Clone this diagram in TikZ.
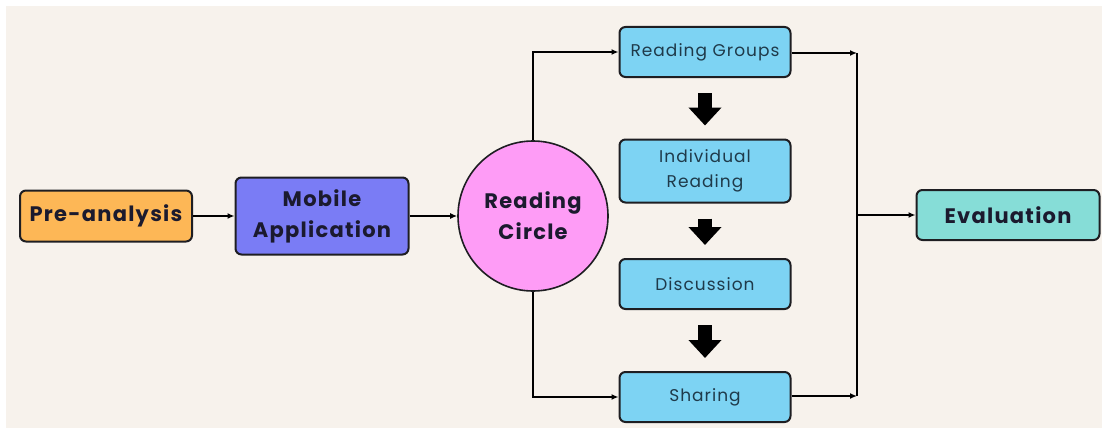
\documentclass[tikz,border=0pt]{standalone}
\usepackage{fontspec}
\setmainfont{Poppins}
\newfontfamily\thinfont{Poppins}[LetterSpace=6]
\newfontfamily\widefont{Poppins}[LetterSpace=6]
\usepackage{tikz}
\usetikzlibrary{arrows.meta}
\definecolor{bgcream}{HTML}{F7F2EC}
\definecolor{orfill}{HTML}{FDB756}
\definecolor{pufill}{HTML}{7A7CF5}
\definecolor{pkfill}{HTML}{FE9CF6}
\definecolor{blfill}{HTML}{7DD3F3}
\definecolor{tlfill}{HTML}{86DDD7}
\definecolor{edge}{HTML}{1E1E22}
\definecolor{boldtxt}{HTML}{1B1A2E}
\definecolor{thintxt}{HTML}{1F3A4A}
\tikzstyle{boldrectround} = [rectangle, rounded corners=6pt,
line width=2pt,
text centered,
draw=edge,
text=boldtxt,
font=\fontsize{21}{31}\widefont\bfseries]
\tikzstyle{orrectround} = [boldrectround, fill=orfill,
minimum width=172pt,
minimum height=51pt]
\tikzstyle{purectround} = [boldrectround, fill=pufill,
minimum width=173pt,
minimum height=77pt,
align=center]
\tikzstyle{tlrectround} = [boldrectround, fill=tlfill,
minimum width=183pt,
minimum height=50pt]
\tikzstyle{pkcircle} = [circle,
minimum size=150pt,
line width=1.6pt,
draw=edge,
fill=pkfill,
text=boldtxt,
align=center,
font=\fontsize{21}{31}\widefont\bfseries]
\tikzstyle{blrectround} = [rectangle, rounded corners=6pt,
minimum width=171pt,
minimum height=50pt,
line width=2pt,
text centered,
draw=edge,
fill=blfill,
text=thintxt,
align=center,
font=\fontsize{17}{25}\thinfont]
\tikzstyle{blockarrow} = [line width=14pt,
-{Triangle[width=32pt,length=18pt]},
shorten <=15pt, shorten >=13pt]
\tikzstyle{link} = [line width=1.7pt, -{Latex[length=7pt,width=6pt]}]

\begin{document}
\begin{tikzpicture}[x=1pt, y=-1pt, node distance=113pt]
		\useasboundingbox (0,0) rectangle (1102,428);
		\fill [white] (0,0) rectangle (1102,428);
		\fill [bgcream] (6,6) rectangle (1102,428);
		
		\node (pre) [orrectround] at (106,216) {Pre-analysis};
		\node (app) [purectround, right of=pre, xshift=103pt] {Mobile\\Application};
		\node (circ) [pkcircle, right of=app, xshift=98pt] {Reading\\Circle};
		\node (groups) [blrectround] at (705,52) {Reading Groups};
		\node (indiv) [blrectround, below of=groups, yshift=-6pt, minimum height=63pt] {Individual\\Reading};
		\node (disc) [blrectround, below of=indiv] {Discussion};
		\node (share) [blrectround, below of=disc] {Sharing};
		\node (eval) [tlrectround] at (1008,215) {Evaluation};
		\coordinate (bustop) at (857,53);
		\coordinate (busbot) at (857,396);
		\coordinate (busmid) at (857,215);
		
		\draw [link](pre) -- (app);
		\draw [link](app) -- (circ);
		\draw [link](circ.north) |- (groups.west);
		\draw [link](circ.south) |- (share.west);
		\draw [link](groups.east |- bustop) -- (bustop);
		\draw [link](share.east |- busbot) -- (busbot);
		\draw [line width=1.7pt](bustop) -- (busbot);
		\draw [link](busmid) -- (eval);
		
		\draw [blockarrow](groups) -- (indiv);
		\draw [blockarrow](indiv) -- (disc);
		\draw [blockarrow](disc) -- (share);
	\end{tikzpicture}
\end{document}
